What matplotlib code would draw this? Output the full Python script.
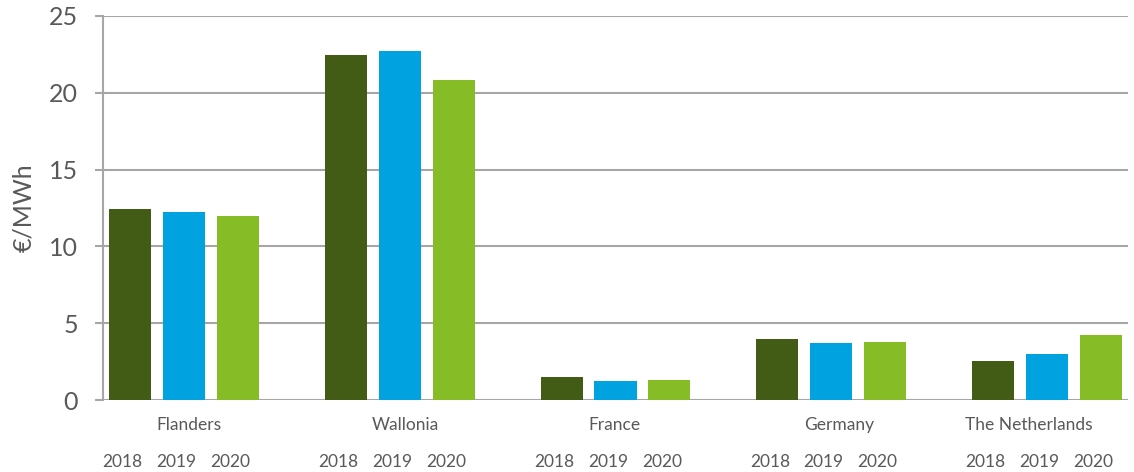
import matplotlib
matplotlib.use('Agg')
import matplotlib.pyplot as plt
import numpy as np

plt.rcParams['font.family'] = ['Lato', 'DejaVu Sans']

regiones = ['Flanders', 'Wallonia', 'France', 'Germany', 'The Netherlands']
anios = ['2018', '2019', '2020']
valores_2018 = [12.43, 22.45, 1.47, 3.97, 2.52]
valores_2019 = [12.23, 22.71, 1.21, 3.71, 2.98]
valores_2020 = [11.97, 20.82, 1.27, 3.77, 4.23]
colores = ['#435C15', '#00A2DF', '#86BC25']

gris_texto = '#595959'
gris_linea = '#A6A6A6'

fig = plt.figure(figsize=(11.34, 4.72), dpi=100)
ax = fig.add_axes([103/1134, 72/472, (1128-103)/1134, (400-16)/472])

x = np.arange(len(regiones))
ancho = 0.195
sep = 0.25
series = [valores_2018, valores_2019, valores_2020]
for i, (vals, col) in enumerate(zip(series, colores)):
    ax.bar(x + (i - 1) * sep, vals, width=ancho, color=col, zorder=3)

ax.set_xlim(-0.375, 4.375)
ax.set_ylim(0, 25)
ax.set_yticks([0, 5, 10, 15, 20, 25])
ax.yaxis.grid(True, color=gris_linea, linewidth=1.5, zorder=0)
ax.set_axisbelow(True)
ax.tick_params(axis='y', length=6, width=1.5, color=gris_linea,
               labelsize=18, labelcolor=gris_texto, pad=12)
ax.set_xticks([])
for lado in ['top', 'right', 'bottom']:
    ax.spines[lado].set_visible(False)
ax.spines['left'].set_color(gris_linea)
ax.spines['left'].set_linewidth(1.5)
ax.set_ylabel('€/MWh', fontsize=18, color=gris_texto, labelpad=10)

# etiquetas de region y de año debajo del eje
# (en el original las regiones no quedan centradas exactamente)
desplaz_region = [0.023, 0.028, -0.007, 0.035, -0.083]
trans = ax.get_xaxis_transform()
for j, reg in enumerate(regiones):
    ax.text(x[j] + desplaz_region[j], -0.065, reg, transform=trans,
            ha='center', va='center', fontsize=12.5, color=gris_texto)
    for i, an in enumerate(anios):
        ax.text(x[j] + (i - 1) * sep - 0.035, -0.162, an, transform=trans,
                ha='center', va='center', fontsize=12.5, color=gris_texto)

fig.savefig('out.png', dpi=100)
